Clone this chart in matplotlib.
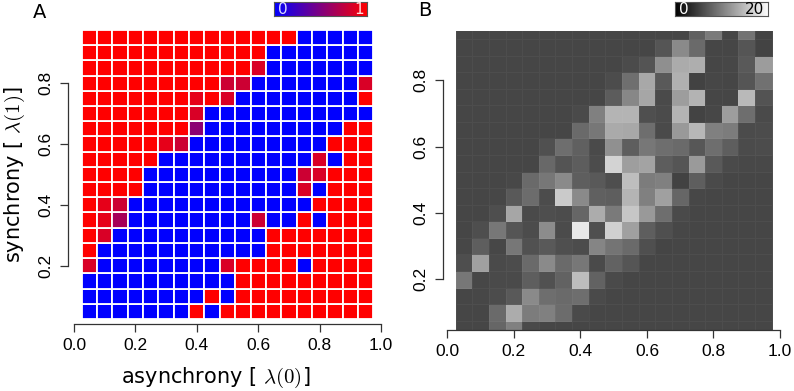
import numpy as np
import matplotlib
matplotlib.use('Agg')
import matplotlib.pyplot as plt
from matplotlib.colors import LinearSegmentedColormap

plt.rcParams['font.family'] = ['DejaVu Sans']
plt.rcParams['mathtext.fontset'] = 'cm'

# grid coordinates (cell centres 0.05 .. 0.95)
lam0 = np.round(np.arange(0.05, 0.951, 0.05), 2)
lam1 = np.round(np.arange(0.05, 0.951, 0.05), 2)

# Panel A: fraction, rows listed top (0.95) to bottom (0.05)
R = 1.0
B = 0.0
frac_rows = [
    [R]*14 + [B]*5,
    [R]*12 + [B]*7,
    [R]*11 + [0.85] + [B]*7,
    [R]*9 + [0.8, 0.8] + [B]*7 + [0.85],
    [R]*7 + [0.9, R, 0.85] + [B]*8 + [R],
    [R]*7 + [0.85] + [B]*11,
    [R]*7 + [0.55] + [B]*9 + [R, R],
    [R]*5 + [0.9, 0.8] + [B]*9 + [R]*3,
    [R]*5 + [B]*10 + [0.85, B, R, R],
    [R]*4 + [B]*10 + [0.8, 0.85, R, R, R],
    [R]*4 + [B]*10 + [0.85, B, R, R, R],
    [R, 0.9, 0.8] + [B]*12 + [R]*4,
    [R, 0.9, 0.65] + [B]*8 + [0.8, B, B, R, B, R, R, R],
    [R, 0.85] + [B]*10 + [R]*7,
    [R] + [B]*11 + [R]*7,
    [0.85] + [B]*8 + [0.85, R, R, R, R, B, R, R, R, R],
    [B]*10 + [R]*9,
    [B]*8 + [R, B] + [R]*9,
    [B]*7 + [R, B] + [R]*10,
]

# Panel B: counts (0-20), rows top (0.95) to bottom (0.05)
bg = 5.5
count_rows = [
    [bg]*14 + [7.5, 9.6, 5.5, 9.0, 5.3],
    [bg]*12 + [6.7, 10.8, 8.3, 5.5, 5.5, 6.7, 5.3],
    [bg]*10 + [5.9, 6.6, 11.2, 13.4, 13.6, 5.5, 5.6, 7.0, 12.2],
    [bg]*9 + [6.0, 8.7, 13.2, 7.0, 13.8, 5.2, 5.6, 5.5, 6.7, 8.9],
    [bg]*9 + [7.2, 10.6, 13.0, 5.8, 12.3, 14.0, 5.5, 5.5, 14.5, 6.5],
    [bg]*7 + [5.8, 10.0, 14.1, 14.1, 6.2, 5.9, 14.1, 5.3, 5.6, 12.3, 8.6, 5.8],
    [bg]*7 + [8.3, 9.3, 13.3, 13.2, 8.6, 5.8, 12.0, 14.3, 10.0, 9.7, 5.9, 6.0],
    [bg]*5 + [6.3, 8.6, 7.5, 5.8, 11.3, 7.4, 9.3, 8.6, 8.3, 6.8, 8.6, 7.4, 5.9, 6.0],
    [bg]*5 + [8.2, 6.6, 7.3, 6.0, 16.5, 12.4, 12.8, 7.3, 6.7, 12.1, 7.0, 5.8, 5.7, 5.7],
    [5.5, 5.5, 5.5, 5.7, 8.3, 9.3, 10.8, 7.4, 7.0, 6.1, 14.9, 9.7, 10.0, 5.2, 7.4, 5.8, 5.5, 5.5, 5.5],
    [5.5, 5.5, 5.6, 7.0, 8.5, 6.0, 15.8, 10.8, 7.5, 7.4, 14.1, 10.0, 12.5, 8.0, 5.6, 5.5, 5.5, 5.5, 5.5],
    [5.5, 5.5, 6.1, 13.0, 5.8, 6.1, 6.0, 8.0, 13.5, 9.6, 15.5, 12.0, 8.6, 5.8, 5.5, 5.5, 5.5, 5.5, 5.5],
    [5.5, 6.1, 9.3, 6.7, 6.0, 11.0, 5.9, 18.2, 6.2, 16.3, 12.5, 7.4, 6.2, 5.6, 5.5, 5.5, 5.5, 5.5, 5.5],
    [5.6, 7.4, 5.6, 9.3, 6.4, 7.0, 6.2, 6.0, 10.4, 9.1, 8.3, 6.2, 5.4, 5.5, 5.5, 5.5, 5.5, 5.5, 5.5],
    [6.1, 12.5, 5.8, 6.0, 8.3, 10.8, 8.3, 9.3, 5.8, 7.7, 6.7, 5.5, 5.5, 5.5, 5.5, 5.5, 5.5, 5.5, 5.5],
    [9.3, 5.6, 5.8, 5.8, 7.4, 6.4, 7.7, 14.8, 7.7, 5.8] + [bg]*9,
    [5.5, 5.6, 6.0, 7.0, 10.8, 8.6, 8.3, 8.6, 5.8] + [bg]*10,
    [5.5, 5.5, 8.3, 13.5, 9.7, 10.0, 8.5, 5.8] + [bg]*11,
    [5.5, 5.5, 8.0, 10.0, 5.8] + [bg]*14,
]

xticks_ab = [0.0, 0.2, 0.4, 0.6, 0.8, 1.0]
yticks_ab = [0.2, 0.4, 0.6, 0.8]

frac = np.array(frac_rows)[::-1]
counts = np.array(count_rows)[::-1]

step = lam0[1] - lam0[0]
xe = np.append(lam0 - step / 2, lam0[-1] + step / 2)
ye = np.append(lam1 - step / 2, lam1[-1] + step / 2)

cmap_br = LinearSegmentedColormap.from_list('br', ['#0000ff', '#ff0000'])

fig = plt.figure(figsize=(7.94, 3.91), dpi=100)

axc = '#333333'
tick_font = dict(family='Liberation Sans', size=12.5)


def style_axes(ax):
    for s in ['top', 'right']:
        ax.spines[s].set_visible(False)
    ax.spines['left'].set_bounds(0.2, 0.8)
    ax.spines['bottom'].set_bounds(0.0, 1.0)
    for s in ['left', 'bottom']:
        ax.spines[s].set_color(axc)
        ax.spines[s].set_linewidth(0.9)
    ax.set_xticks(xticks_ab)
    ax.set_xticklabels(['%.1f' % v for v in xticks_ab], fontdict=tick_font)
    ax.set_yticks(yticks_ab)
    ax.set_yticklabels(['%.1f' % v for v in yticks_ab], fontdict=tick_font,
                       rotation=90, va='center')
    ax.tick_params(length=5.5, width=0.9, color=axc, pad=4.5)


# ---- Panel A
axA = fig.add_axes([0.0853, 0.1714, 0.3945, 0.7714])
axA.pcolormesh(xe, ye, frac, cmap=cmap_br, vmin=0, vmax=1,
               edgecolors='white', linewidth=1.3, antialiased=True)
axA.set_xlim(-0.0205, 1.0)
axA.set_ylim(0.0085, 1.0)
style_axes(axA)

fig.text(216 / 794, 1 - 378 / 391, r'asynchrony [ $\lambda(0)$]', ha='center', va='center', fontsize=15)
fig.text(15 / 794, 1 - 175 / 391, r'synchrony [ $\lambda(1)$]', ha='center', va='center',
         fontsize=15, rotation=90)
fig.text(40 / 794, 1 - 12 / 391, 'A', ha='center', va='center', fontsize=14)

# colour key A
caxA = fig.add_axes([0.3455, 0.9591, 0.1171, 0.0366])
caxA.imshow(np.linspace(0, 1, 256)[None, :], aspect='auto', cmap=cmap_br,
            extent=[0, 1, 0, 1])
caxA.set_xticks([])
caxA.set_yticks([])
for s in caxA.spines.values():
    s.set_color('#555555')
    s.set_linewidth(0.8)
caxA.text(0.04, 0.45, '0', color='#dcdcff', ha='left', va='center', fontsize=11,
          transform=caxA.transAxes)
caxA.text(0.96, 0.45, '1', color='#ffdcdc', ha='right', va='center', fontsize=11,
          transform=caxA.transAxes)

# ---- Panel B
axB = fig.add_axes([0.5576, 0.1560, 0.4248, 0.7655])
axB.pcolormesh(xe, ye, counts, cmap='gray', vmin=0, vmax=20,
               edgecolors=(1, 1, 1, 0.04), linewidth=0.5)
axB.set_xlim(-0.014, 1.0)
axB.set_ylim(0.047, 0.95)
style_axes(axB)
fig.text(425 / 794, 1 - 10 / 391, 'B', ha='center', va='center', fontsize=14)

caxB = fig.add_axes([0.8501, 0.9591, 0.1175, 0.0358])
caxB.imshow(np.linspace(0, 20, 256)[None, :], aspect='auto', cmap='gray',
            vmin=0, vmax=20, extent=[0, 1, 0, 1])
caxB.set_xticks([])
caxB.set_yticks([])
for s in caxB.spines.values():
    s.set_color('#555555')
    s.set_linewidth(0.8)
caxB.text(0.04, 0.45, '0', color='white', ha='left', va='center', fontsize=11,
          transform=caxB.transAxes)
caxB.text(0.96, 0.45, '20', color='black', ha='right', va='center', fontsize=11,
          transform=caxB.transAxes)

fig.savefig('out.png', dpi=100, facecolor='white')
